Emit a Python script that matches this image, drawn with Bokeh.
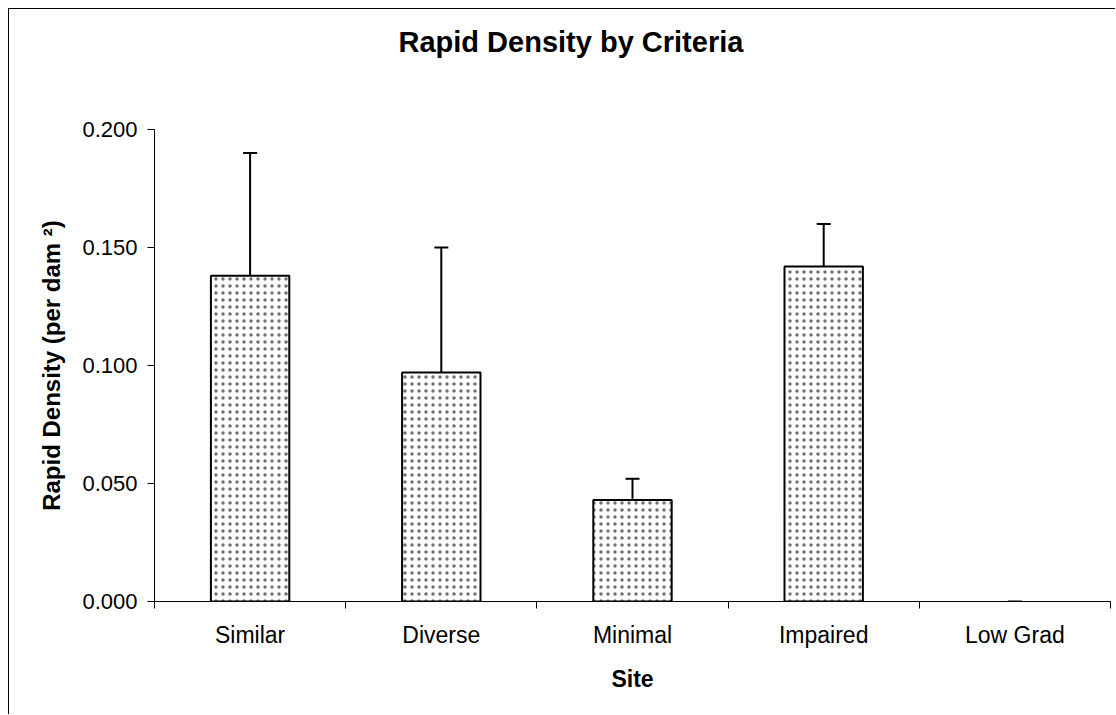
from bokeh.plotting import figure
from bokeh.models import (ColumnDataSource, Range1d, LinearAxis,
                          FixedTicker, Whisker, TeeHead, NumeralTickFormatter)
from bokeh.embed import file_html
from bokeh.resources import INLINE

# ---- data ----
sites = ["Similar", "Diverse", "Minimal", "Impaired", "Low Grad"]
density = [0.138, 0.097, 0.043, 0.142, 0.000]
error_plus = [0.052, 0.053, 0.009, 0.018, 0.000]
y_ticks = [0.000, 0.050, 0.100, 0.150, 0.200]
title_text = "Rapid Density by Criteria"
x_label = "Site"
y_label = "Rapid Density (per dam \u00b2)"

FONT = "Liberation Sans"

n = len(sites)
centers = [i + 0.5 for i in range(n)]
bounds = list(range(n + 1))
upper = [d + e for d, e in zip(density, error_plus)]
bar_line_alpha = [1.0 if d > 0 else 0.0 for d in density]
src = ColumnDataSource(dict(x=centers, site=sites, density=density, upper=upper,
                            la=bar_line_alpha))

p = figure(width=1107, height=706,
           x_range=Range1d(0, n), y_range=Range1d(0, 0.2),
           x_axis_location=None, y_axis_location=None,
           output_backend="svg", toolbar_location=None,
           min_border_left=145, min_border_right=6, min_border_top=120, min_border_bottom=114)
p.margin = (9, 0, 0, 9)
p.styles = {"box-shadow": "-1px -1px 0 0 #000000"}
p.xgrid.visible = False
p.ygrid.visible = False
p.outline_line_color = None
p.background_fill_color = "white"
p.border_fill_color = "white"

# title (outermost in the "above" panel)
p.title.text = title_text
p.title.text_font = FONT
p.title.text_font_size = "29px"
p.title.text_font_style = "bold"
p.title.text_color = "#000000"
p.title.align = "left"
p.title.offset = 244
p.title.vertical_align = "top"
p.title.standoff = 10

# spacer between title and plot frame (white, invisible on white background)
spacer = LinearAxis(ticker=FixedTicker(ticks=[0]), major_label_overrides={0: ""})
spacer.axis_line_color = None
spacer.major_tick_line_color = "white"
spacer.minor_tick_line_color = None
spacer.major_tick_out = 65
spacer.major_tick_in = 0
spacer.major_label_standoff = 0
spacer.major_label_text_font_size = "1px"
p.add_layout(spacer, "above")

# y axis
yaxis = LinearAxis(ticker=FixedTicker(ticks=y_ticks), formatter=NumeralTickFormatter(format="0.000"),
                   axis_label=y_label)
yaxis.major_tick_out = 7
yaxis.major_tick_in = 0
yaxis.minor_tick_line_color = None
yaxis.axis_line_color = "#000000"
yaxis.major_tick_line_color = "#000000"
yaxis.major_label_standoff = 10
yaxis.major_label_text_font = FONT
yaxis.major_label_text_font_size = "22px"
yaxis.major_label_text_color = "#000000"
yaxis.axis_label_text_font = FONT
yaxis.axis_label_text_font_size = "24px"
yaxis.axis_label_text_font_style = "bold"
yaxis.axis_label_text_color = "#000000"
yaxis.axis_label_standoff = 14
p.add_layout(yaxis, "left")

# boundary tick axis (ticks between categories)
tick_axis = LinearAxis(ticker=FixedTicker(ticks=bounds))
tick_axis.major_tick_out = 7
tick_axis.major_tick_in = 0
tick_axis.minor_tick_line_color = None
tick_axis.axis_line_color = "#000000"
tick_axis.major_tick_line_color = "#000000"
tick_axis.major_label_text_font_size = "1px"
tick_axis.major_label_text_color = None
tick_axis.major_label_standoff = 0
p.add_layout(tick_axis, "below")

# category label axis
xaxis = LinearAxis(ticker=FixedTicker(ticks=centers), axis_label=x_label,
                   major_label_overrides={c: s for c, s in zip(centers, sites)})
xaxis.axis_line_color = None
xaxis.major_tick_line_color = None
xaxis.minor_tick_line_color = None
xaxis.major_tick_out = 0
xaxis.major_tick_in = 0
xaxis.major_label_standoff = 13
xaxis.major_label_text_font = FONT
xaxis.major_label_text_font_size = "23px"
xaxis.major_label_text_color = "#000000"
xaxis.axis_label_text_font = FONT
xaxis.axis_label_text_font_size = "23px"
xaxis.axis_label_text_font_style = "bold"
xaxis.axis_label_text_color = "#000000"
xaxis.axis_label_standoff = 15
p.add_layout(xaxis, "below")

# bars
p.vbar(x="x", top="density", width=0.41, source=src,
       fill_color="white", line_color="black", line_width=2, line_alpha="la",
       hatch_pattern="dot", hatch_scale=7, hatch_weight=1.0, hatch_color="#707070")

# plus error bars
wh = Whisker(base="x", upper="upper", lower="density", source=src, dimension="height",
             line_color="black", line_width=2,
             upper_head=TeeHead(size=14, line_color="black", line_width=2), lower_head=None)
wh.level = "glyph"
p.add_layout(wh)

open("out.html", "w").write(file_html(p, INLINE))
